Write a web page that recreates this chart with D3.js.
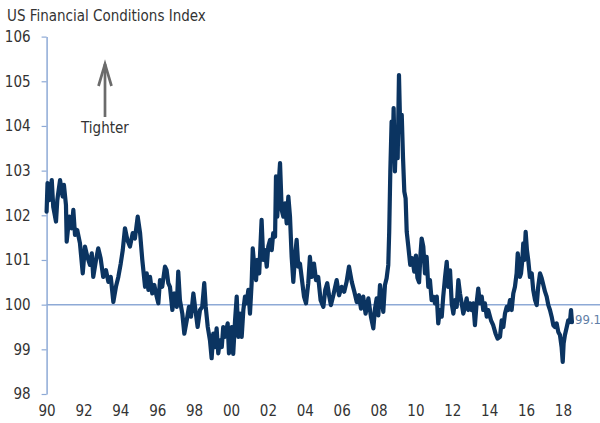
<!DOCTYPE html>
<html>
<head>
<meta charset="utf-8">
<script src="https://cdn.jsdelivr.net/npm/d3@7"></script>
<style>
  body { margin: 0; background: #fff; }
  svg text { font-family: "Liberation Sans Narrow", "DejaVu Sans Condensed", sans-serif; }
</style>
</head>
<body>
<div id="chart"></div>
<script>
// values, decimal year -> index level
const dates = [
  1990.00, 1990.05, 1990.15, 1990.28, 1990.36, 1990.51, 1990.58, 1990.73, 1990.87, 1990.94,
  1991.05, 1991.09, 1991.23, 1991.36, 1991.45, 1991.54, 1991.66, 1991.81, 1991.96, 1992.08,
  1992.21, 1992.35, 1992.45, 1992.53, 1992.68, 1992.80, 1992.93, 1993.07, 1993.22, 1993.35,
  1993.48, 1993.62, 1993.76, 1993.89, 1994.02, 1994.13, 1994.25, 1994.38, 1994.52, 1994.67,
  1994.79, 1994.94, 1995.07, 1995.19, 1995.34, 1995.43, 1995.52, 1995.61, 1995.73, 1995.84,
  1995.97, 1996.06, 1996.15, 1996.27, 1996.42, 1996.51, 1996.60, 1996.69, 1996.82, 1996.93,
  1997.06, 1997.14, 1997.23, 1997.36, 1997.47, 1997.60, 1997.72, 1997.83, 1997.96, 1998.05,
  1998.19, 1998.32, 1998.44, 1998.55, 1998.63, 1998.74, 1998.86, 1998.95, 1999.04, 1999.13,
  1999.22, 1999.31, 1999.40, 1999.50, 1999.58, 1999.67, 1999.82, 1999.89, 2000.04, 2000.12,
  2000.22, 2000.31, 2000.40, 2000.49, 2000.58, 2000.67, 2000.76, 2000.85, 2000.94, 2001.03,
  2001.12, 2001.18, 2001.25, 2001.36, 2001.43, 2001.53, 2001.66, 2001.75, 2001.84, 2001.94,
  2002.02, 2002.12, 2002.21, 2002.29, 2002.39, 2002.44, 2002.51, 2002.59, 2002.66, 2002.75,
  2002.84, 2002.93, 2003.02, 2003.11, 2003.20, 2003.29, 2003.38, 2003.47, 2003.56, 2003.65,
  2003.74, 2003.83, 2003.96, 2004.07, 2004.19, 2004.28, 2004.38, 2004.50, 2004.61, 2004.73,
  2004.86, 2005.01, 2005.11, 2005.22, 2005.33, 2005.42, 2005.55, 2005.73, 2005.86, 2006.00,
  2006.14, 2006.27, 2006.40, 2006.55, 2006.69, 2006.82, 2006.94, 2007.05, 2007.17, 2007.30,
  2007.45, 2007.59, 2007.72, 2007.81, 2007.90, 2007.99, 2008.08, 2008.17, 2008.26, 2008.35,
  2008.44, 2008.53, 2008.58, 2008.64, 2008.71, 2008.77, 2008.82, 2008.89, 2008.96, 2009.04,
  2009.11, 2009.18, 2009.26, 2009.33, 2009.40, 2009.47, 2009.53, 2009.61, 2009.72, 2009.83,
  2009.94, 2010.03, 2010.11, 2010.20, 2010.28, 2010.34, 2010.43, 2010.52, 2010.61, 2010.70,
  2010.79, 2010.88, 2010.97, 2011.06, 2011.16, 2011.24, 2011.33, 2011.43, 2011.51, 2011.61,
  2011.70, 2011.78, 2011.88, 2011.97, 2012.06, 2012.15, 2012.24, 2012.33, 2012.42, 2012.51,
  2012.60, 2012.69, 2012.78, 2012.87, 2012.96, 2013.05, 2013.14, 2013.23, 2013.32, 2013.41,
  2013.50, 2013.60, 2013.68, 2013.77, 2013.87, 2013.95, 2014.10, 2014.22, 2014.35, 2014.46,
  2014.59, 2014.68, 2014.77, 2014.86, 2014.95, 2015.04, 2015.13, 2015.22, 2015.31, 2015.40,
  2015.49, 2015.55, 2015.62, 2015.67, 2015.73, 2015.80, 2015.85, 2015.91, 2015.98, 2016.05,
  2016.12, 2016.21, 2016.31, 2016.39, 2016.49, 2016.58, 2016.66, 2016.76, 2016.85, 2016.94,
  2017.03, 2017.12, 2017.21, 2017.30, 2017.39, 2017.48, 2017.57, 2017.66, 2017.75, 2017.84,
  2017.93, 2017.99, 2018.04, 2018.11, 2018.21, 2018.29, 2018.38, 2018.44, 2018.49
];
const fci = [
  102.08, 102.72, 102.34, 102.79, 102.19, 101.86, 102.34, 102.79, 102.42, 102.68,
  102.23, 101.41, 101.97, 101.71, 102.12, 101.56, 101.67, 101.37, 100.70, 101.30,
  101.07, 100.89, 101.15, 100.62, 101.00, 101.26, 101.04, 100.62, 100.77, 100.51,
  100.62, 100.06, 100.40, 100.62, 100.92, 101.22, 101.71, 101.45, 101.30, 101.60,
  101.48, 101.97, 101.60, 101.00, 100.40, 100.70, 100.33, 100.62, 100.25, 100.44,
  100.18, 100.03, 100.55, 100.40, 100.85, 100.77, 100.48, 100.40, 99.88, 100.25,
  99.95, 100.74, 100.10, 99.80, 99.35, 99.65, 99.95, 99.73, 100.25, 99.95,
  99.50, 99.88, 99.95, 100.48, 99.95, 99.50, 99.20, 98.80, 99.35, 99.05,
  99.47, 98.91, 99.20, 99.05, 99.50, 99.28, 99.58, 98.91, 99.50, 98.90,
  99.65, 100.18, 99.28, 99.80, 99.28, 99.88, 100.18, 100.03, 100.33, 99.80,
  100.48, 101.26, 100.92, 100.55, 101.00, 100.70, 101.90, 101.00, 101.22, 100.85,
  101.30, 101.45, 101.22, 101.60, 101.52, 102.87, 101.97, 102.72, 103.17, 102.12,
  101.97, 102.27, 101.82, 102.42, 101.97, 101.07, 100.51, 101.07, 101.45, 100.85,
  100.92, 100.62, 100.18, 100.03, 100.48, 101.07, 100.62, 100.92, 100.55, 100.62,
  100.10, 99.95, 100.33, 100.48, 100.18, 99.99, 100.21, 100.55, 100.21, 100.40,
  100.29, 100.51, 100.85, 100.51, 100.29, 100.06, 100.21, 99.91, 100.18, 99.80,
  100.14, 99.73, 99.47, 99.91, 100.14, 99.76, 100.44, 100.14, 99.84, 100.44,
  100.59, 100.89, 101.63, 102.98, 104.10, 103.43, 104.40, 102.98, 103.88, 103.28,
  105.14, 103.88, 104.25, 103.28, 102.53, 102.38, 101.63, 101.33, 100.89, 101.04,
  100.74, 101.10, 100.60, 100.50, 101.15, 101.48, 101.30, 100.70, 101.07, 100.40,
  100.55, 100.10, 100.18, 100.03, 100.18, 99.58, 99.88, 99.73, 100.18, 100.62,
  100.96, 100.40, 100.77, 100.03, 99.80, 100.10, 99.95, 100.55, 100.25, 100.03,
  99.80, 99.95, 100.14, 99.88, 100.03, 99.88, 100.03, 99.54, 100.03, 100.36,
  100.03, 100.18, 99.88, 100.03, 99.73, 99.88, 99.65, 99.54, 99.35, 99.24,
  99.28, 99.65, 99.50, 99.80, 99.95, 99.88, 100.10, 99.88, 100.25, 100.40,
  100.70, 101.15, 100.92, 100.62, 100.70, 101.00, 101.37, 101.00, 101.63, 101.22,
  101.00, 100.62, 100.70, 100.33, 100.10, 99.99, 100.40, 100.70, 100.59, 100.44,
  100.29, 100.18, 99.99, 99.88, 99.73, 99.54, 99.50, 99.58, 99.39, 99.32,
  99.05, 98.72, 99.13, 99.32, 99.50, 99.65, 99.61, 99.88, 99.61
];

const yTicks = [98, 99, 100, 101, 102, 103, 104, 105, 106];
const xTickYears = [1990, 1992, 1994, 1996, 1998, 2000, 2002, 2004, 2006, 2008, 2010, 2012, 2014, 2016, 2018];
const xTickLabels = ["90", "92", "94", "96", "98", "00", "02", "04", "06", "08", "10", "12", "14", "16", "18"];
const refLevel = 100;
const lastLabel = "99.1";
const title = "US Financial Conditions Index";
const arrowLabel = "Tighter";

const width = 600, height = 423;
const margin = {top: 36.6, right: 37, bottom: 29, left: 46.6};

const svg = d3.select("#chart")
  .append("svg")
    .attr("width", width)
    .attr("height", height);

const xScale = d3.scaleLinear()
  .domain([1990, 2018])
  .range([margin.left, 562.9]);

const yScale = d3.scaleLinear()
  .domain([98, 106])
  .range([height - margin.bottom, margin.top]);

const data = dates.map((d, i) => ({date: d, value: fci[i]}));

// title
svg.append("text")
  .attr("x", 7)
  .attr("y", 21)
  .attr("font-size", 15)
  .attr("fill", "#333")
  .text(title);

// reference line at 100
svg.append("line")
  .attr("x1", margin.left)
  .attr("x2", width)
  .attr("y1", yScale(refLevel))
  .attr("y2", yScale(refLevel))
  .attr("stroke", "#8eaad6")
  .attr("stroke-width", 1.5);

// y axis
const yAxis = svg.append("g")
  .attr("transform", `translate(${margin.left},0)`)
  .call(d3.axisLeft(yScale).tickValues(yTicks).tickSize(5).tickSizeOuter(0).tickPadding(11));
yAxis.select(".domain").attr("stroke", "#8eaad6").attr("stroke-width", 1.5);
yAxis.selectAll(".tick line").attr("stroke", "#8eaad6").attr("stroke-width", 1.2);
yAxis.selectAll(".tick text")
  .attr("font-size", 15)
  .attr("fill", "#333");

// x axis, labels only
const xAxis = svg.append("g")
  .attr("transform", `translate(0,${height - margin.bottom})`)
  .call(d3.axisBottom(xScale).tickValues(xTickYears).tickFormat((d, i) => xTickLabels[i]).tickSize(0).tickPadding(11));
xAxis.select(".domain").remove();
xAxis.selectAll(".tick text")
  .attr("font-size", 15)
  .attr("fill", "#333");

// the index line
const line = d3.line()
  .x(d => xScale(d.date))
  .y(d => yScale(d.value));

svg.append("path")
  .datum(data)
  .attr("fill", "none")
  .attr("stroke", "#0b3461")
  .attr("stroke-width", 4.2)
  .attr("stroke-linejoin", "round")
  .attr("stroke-linecap", "round")
  .attr("d", line);

// last value label
svg.append("text")
  .attr("x", 575)
  .attr("y", 324)
  .attr("font-size", 13)
  .attr("fill", "#5f7ea6")
  .text(lastLabel);

// "Tighter" arrow
const arrow = svg.append("g").attr("stroke", "#6b6b6b").attr("stroke-width", 2.7).attr("fill", "none");
arrow.append("line").attr("x1", 105).attr("x2", 105).attr("y1", 117).attr("y2", 64);
arrow.append("polyline").attr("points", "98.5,86 105,64 111.5,86");

svg.append("text")
  .attr("x", 105)
  .attr("y", 133)
  .attr("text-anchor", "middle")
  .attr("font-size", 15)
  .attr("fill", "#333")
  .text(arrowLabel);
</script>
</body>
</html>
